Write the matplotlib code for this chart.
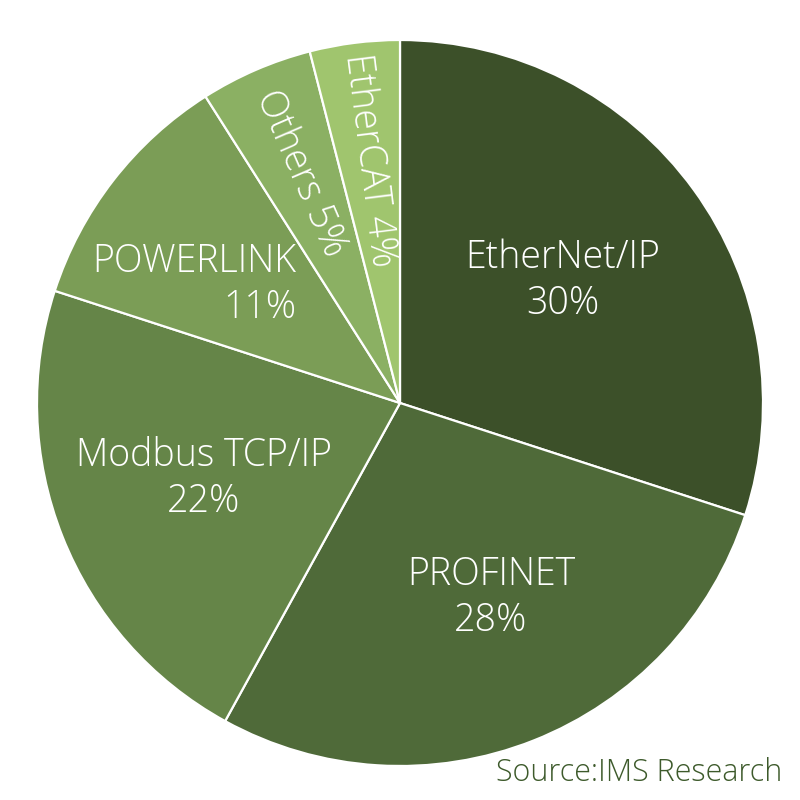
import matplotlib
matplotlib.use("Agg")
import matplotlib.pyplot as plt
import numpy as np

labels = ["EtherNet/IP", "PROFINET", "Modbus TCP/IP", "POWERLINK", "Others", "EtherCAT"]
values = [30, 28, 22, 11, 5, 4]
colors = ["#3c5029", "#4f6a39", "#658548", "#7b9d56", "#8bb063", "#a0c56e"]

plt.rcParams['font.family'] = ['Open Sans', 'DejaVu Sans']

fig = plt.figure(figsize=(8, 8), dpi=100)
ax = fig.add_axes([0, 0, 1, 1])
ax.set_xlim(0, 800)
ax.set_ylim(0, 800)
ax.set_aspect('equal')
ax.axis('off')

cx, cy, R = 400, 800 - 403, 363
wedges, _ = ax.pie(values, colors=colors, startangle=90, counterclock=False,
                   center=(cx, cy), radius=R,
                   wedgeprops=dict(edgecolor='white', linewidth=1.6))
ax.set_xlim(0, 800)
ax.set_ylim(0, 800)

fs = 27
fw = 'light'
tc = 'white'
ls = 1.27
ax.text(563, 800 - 281, f"{labels[0]}\n{values[0]}%", ha='center', va='center',
        color=tc, fontsize=fs, fontweight=fw, linespacing=ls)
ax.text(491, 800 - 598, f"{labels[1]}\n{values[1]}%", ha='center', va='center',
        color=tc, fontsize=fs, fontweight=fw, linespacing=ls)
ax.text(204, 800 - 479, f"{labels[2]}\n{values[2]}%", ha='center', va='center',
        color=tc, fontsize=fs, fontweight=fw, linespacing=ls)
ax.text(296, 800 - 285, f"{labels[3]}\n{values[3]}%", ha='right', va='center',
        color=tc, fontsize=fs, fontweight=fw, linespacing=ls, multialignment='right')

cum = np.cumsum([0] + values)
for i, r in [(4, 250), (5, 245)]:
    mid = (cum[i] + cum[i + 1]) / 2 / 100.0
    ang = 90 - mid * 360
    x = cx + r * np.cos(np.radians(ang))
    y = cy + r * np.sin(np.radians(ang))
    ax.text(x, y, f"{labels[i]} {values[i]}%", ha='center', va='center',
            rotation=ang - 180, rotation_mode='anchor', color=tc, fontsize=fs,
            fontweight=fw)

ax.text(782, 800 - 773, "Source:IMS Research", ha='right', va='center',
        color='#3d5a2b', fontsize=22, fontweight=fw)

fig.savefig("out.png", dpi=100, facecolor='white')
